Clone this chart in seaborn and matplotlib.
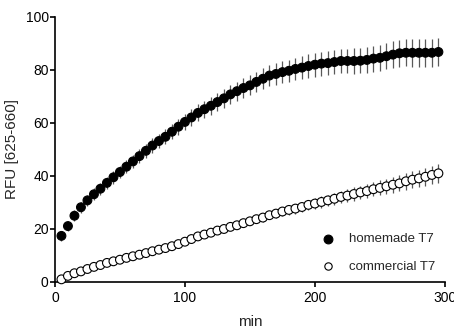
import seaborn as sns
import matplotlib.pyplot as plt
import pandas as pd
import numpy as np

# time points (min)
minutes = list(range(5, 300, 5))

# homemade T7 mean RFU and SD
homemade = [17.4, 21.1, 25.0, 28.2, 30.8, 33.1, 35.2, 37.4, 39.5, 41.5,
            43.5, 45.5, 47.5, 49.5, 51.5, 53.2, 54.8, 56.7, 58.6, 60.4,
            62.1, 63.8, 65.2, 66.5, 67.9, 69.3, 70.8, 72.0, 73.2, 74.2,
            75.5, 76.7, 77.9, 78.5, 79.2, 79.7, 80.4, 80.9, 81.5, 82.0,
            82.4, 82.6, 83.0, 83.4, 83.4, 83.4, 83.5, 83.8, 84.3, 84.6,
            85.2, 85.8, 86.3, 86.5, 86.5, 86.5, 86.5, 86.5, 86.8]
homemade_sd = [2.0, 2.0, 2.1, 2.1, 2.2, 2.2, 2.3, 2.3, 2.4, 2.4,
               2.5, 2.5, 2.6, 2.6, 2.7, 2.8, 2.8, 2.9, 3.0, 3.0,
               3.1, 3.2, 3.2, 3.3, 3.4, 3.5, 3.5, 3.6, 3.7, 3.8,
               3.9, 4.0, 4.0, 4.1, 4.2, 4.2, 4.3, 4.3, 4.4, 4.5,
               4.5, 4.6, 4.6, 4.7, 4.7, 4.8, 4.8, 4.9, 4.9, 5.0,
               5.0, 5.0, 5.1, 5.1, 5.2, 5.2, 5.3, 5.3, 5.4]

# commercial T7 mean RFU and SD
commercial = [1.0, 2.3, 3.3, 4.0, 4.9, 5.7, 6.4, 7.2, 7.8, 8.4,
              9.1, 9.7, 10.3, 10.9, 11.6, 12.2, 12.8, 13.5, 14.3, 15.2,
              16.2, 17.2, 17.9, 18.6, 19.4, 20.0, 20.8, 21.4, 22.2, 22.9,
              23.7, 24.3, 25.2, 25.8, 26.6, 27.2, 27.7, 28.3, 29.1, 29.6,
              30.2, 30.8, 31.4, 32.1, 32.6, 33.2, 33.8, 34.3, 35.0, 35.5,
              36.1, 36.7, 37.2, 38.0, 38.6, 39.1, 39.7, 40.4, 41.0]
commercial_sd = [0.2, 0.2, 0.3, 0.3, 0.3, 0.4, 0.4, 0.4, 0.5, 0.5,
                 0.5, 0.6, 0.6, 0.6, 0.7, 0.7, 0.8, 0.8, 0.9, 0.9,
                 1.0, 1.0, 1.1, 1.1, 1.2, 1.2, 1.3, 1.3, 1.4, 1.4,
                 1.5, 1.5, 1.6, 1.7, 1.7, 1.8, 1.9, 1.9, 2.0, 2.1,
                 2.1, 2.2, 2.3, 2.3, 2.4, 2.5, 2.6, 2.6, 2.7, 2.8,
                 2.9, 3.0, 3.0, 3.1, 3.2, 3.3, 3.4, 3.5, 3.6]

sns.set_style("ticks")
plt.rcParams['font.family'] = ['Liberation Sans', 'DejaVu Sans']

df = pd.DataFrame({
    'min': minutes * 2,
    'RFU': homemade + commercial,
    'SD': homemade_sd + commercial_sd,
    'enzyme': ['homemade T7'] * len(minutes) + ['commercial T7'] * len(minutes),
})

fig = plt.figure(figsize=(4.54, 3.30), dpi=100)
ax = fig.add_axes([0.121, 0.1455, 0.859, 0.803])

for name in ['homemade T7', 'commercial T7']:
    d = df[df['enzyme'] == name]
    ax.errorbar(d['min'], d['RFU'], yerr=d['SD'], fmt='none',
                ecolor='0.35', elinewidth=0.9, capsize=0, zorder=2, clip_on=False)

sns.scatterplot(data=df, x='min', y='RFU', style='enzyme', hue='enzyme',
                palette={'homemade T7': 'black', 'commercial T7': 'white'},
                markers={'homemade T7': 'o', 'commercial T7': 'o'},
                s=40, edgecolor='black', linewidth=0.8, zorder=3,
                clip_on=False, ax=ax, legend=False)

# legend
ax.scatter([], [], s=40, c='black', edgecolors='black', linewidths=0.8, label='homemade T7')
ax.scatter([], [], s=28, c='white', edgecolors='black', linewidths=0.8, label='commercial T7')
ax.legend(loc='lower right', bbox_to_anchor=(1.0, 0.0), frameon=False,
          fontsize=9.5, handletextpad=0.6, labelspacing=1.15, borderaxespad=0.3)

ax.set_xlim(0, 300)
ax.set_ylim(0, 100)
ax.set_xticks([0, 100, 200, 300])
ax.set_yticks([0, 20, 40, 60, 80, 100])
ax.set_xlabel('min', fontsize=11, labelpad=7)
ax.set_ylabel('RFU [625-660]', fontsize=11, labelpad=5)
ax.tick_params(axis='both', labelsize=10, length=3.5, width=1.2, color='black', labelcolor='black')
ax.tick_params(axis='y', pad=1)
ax.tick_params(axis='x', pad=3)
for s in ['left', 'bottom']:
    ax.spines[s].set_linewidth(1.2)
    ax.spines[s].set_color('black')
sns.despine(ax=ax)

fig.savefig('out.png', dpi=100)
